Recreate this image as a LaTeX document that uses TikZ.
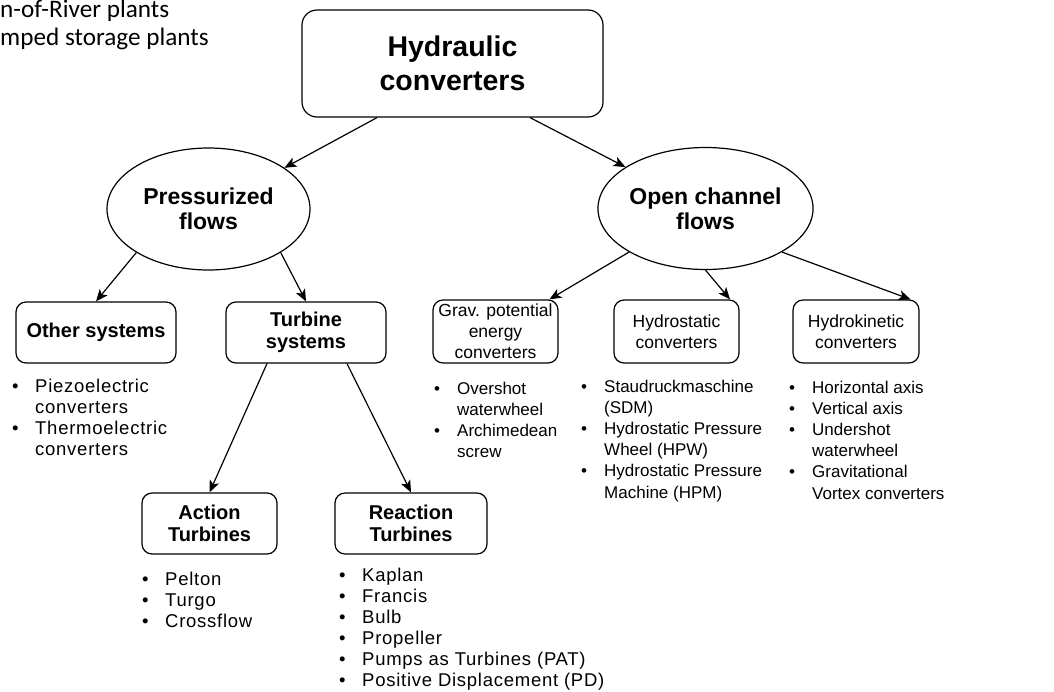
\documentclass[tikz,border=0pt]{standalone}
\usepackage{fontspec}
\setmainfont{Liberation Sans}
\newfontfamily\calfont{Carlito}
\usetikzlibrary{shapes.geometric,arrows.meta}
\newcommand{\bul}{\makebox[23pt][l]{\textbullet}}
\newcommand{\ind}{\hspace*{23pt}}

\begin{document}
\begin{tikzpicture}[x=1pt,y=-1pt]
        \tikzstyle{every node}+=[inner sep=0pt]
        \tikzstyle{box}=[draw=black,line width=1.2pt,rounded corners=10pt,align=center]
        \tikzstyle{flow}=[draw=black,line width=1.2pt,ellipse,align=center,minimum width=203pt,minimum height=122pt,font=\fontsize{23}{25}\selectfont\bfseries]
        \tikzstyle{head}=[box,font=\fontsize{20}{22}\selectfont\bfseries]
        \tikzstyle{kind}=[box,font=\fontsize{17.5}{21}\selectfont]
        \tikzstyle{arr}=[draw=black,line width=1.2pt,-{Stealth[length=12pt,width=10pt,inset=3pt]}]
        \tikzstyle{items}=[anchor=base west,font=\fontsize{17}{21.2}\selectfont]
        \tikzstyle{wide}=[items,font=\fontsize{18.5}{21}\selectfont\addfontfeature{LetterSpace=4}]
        \useasboundingbox (0,0) rectangle (1054,691);
        \node[anchor=base west,font=\calfont\fontsize{25.2}{29}\selectfont] (river) at (0,17) {n-of-River plants};
        \node[anchor=base west,font=\calfont\fontsize{25.2}{29}\selectfont] (storage) at (0,45) {mped storage plants};
        \node[box,minimum width=301pt,minimum height=107pt,rounded corners=15pt,font=\fontsize{28.5}{34}\selectfont\bfseries] (hyd) at (452.5,63.5) {Hydraulic\\converters};
        \node[flow] (pres) at (208.5,209) {Pressurized\\flows};
        \node[flow] (open) at (705.5,208.5) {Open channel\\flows};
        \node[head,minimum width=160pt,minimum height=61pt] (oth) at (96,332.5) {Other systems};
        \node[head,minimum width=160pt,minimum height=61pt] (tur) at (306,332.5) {Turbine\\systems};
        \node[kind,minimum width=125pt,minimum height=63pt] (grav) at (495.5,331.5) {Grav. potential\\energy\\converters};
        \node[kind,minimum width=125pt,minimum height=63pt] (hs) at (676.5,331.5) {Hydrostatic\\converters};
        \node[kind,minimum width=126pt,minimum height=63pt] (hk) at (856,331.5) {Hydrokinetic\\converters};
        \node[head,minimum width=135pt,minimum height=61pt] (act) at (209.5,523.5) {Action\\Turbines};
        \node[head,minimum width=152pt,minimum height=61pt] (rea) at (411,523.5) {Reaction\\Turbines};
        \node[wide] (othlist) at (12,392) {\begin{tabular}[t]{@{}l@{}}\bul Piezoelectric\\\ind converters\\\bul Thermoelectric\\\ind converters\end{tabular}};
        \node[items] (gravlist) at (434,394) {\begin{tabular}[t]{@{}l@{}}\bul Overshot\\\ind waterwheel\\\bul Archimedean\\\ind screw\end{tabular}};
        \node[items] (hslist) at (581,392) {\begin{tabular}[t]{@{}l@{}}\bul Staudruckmaschine\\\ind (SDM)\\\bul Hydrostatic Pressure\\\ind Wheel (HPW)\\\bul Hydrostatic Pressure\\\ind Machine (HPM)\end{tabular}};
        \node[items] (hklist) at (789,393) {\begin{tabular}[t]{@{}l@{}}\bul Horizontal axis\\\bul Vertical axis\\\bul Undershot\\\ind waterwheel\\\bul Gravitational\\\ind Vortex converters\end{tabular}};
        \node[wide] (actlist) at (142,585) {\begin{tabular}[t]{@{}l@{}}\bul Pelton\\\bul Turgo\\\bul Crossflow\end{tabular}};
        \node[wide] (realist) at (339,581) {\begin{tabular}[t]{@{}l@{}}\bul Kaplan\\\bul Francis\\\bul Bulb\\\bul Propeller\\\bul Pumps as Turbines (PAT)\\\bul Positive Displacement (PD)\end{tabular}};
        \draw[arr] ([xshift=-75.5pt]hyd.south) -- (pres);
        \draw[arr] ([xshift=77.5pt]hyd.south) -- (open);
        \draw[arr] (pres.south west) -- (oth.north);
        \draw[arr] (pres.south east) -- (tur.north);
        \draw[arr] (open.south west) -- (grav);
        \draw[arr] (open.south) -- ([xshift=53.5pt]hs.north);
        \draw[arr] (open.south east) -- ([xshift=-9pt]hk.north east);
        \draw[arr] ([xshift=-39pt]tur.south) -- (act.north);
        \draw[arr] ([xshift=41pt]tur.south) -- (rea.north);
\end{tikzpicture}
\end{document}
